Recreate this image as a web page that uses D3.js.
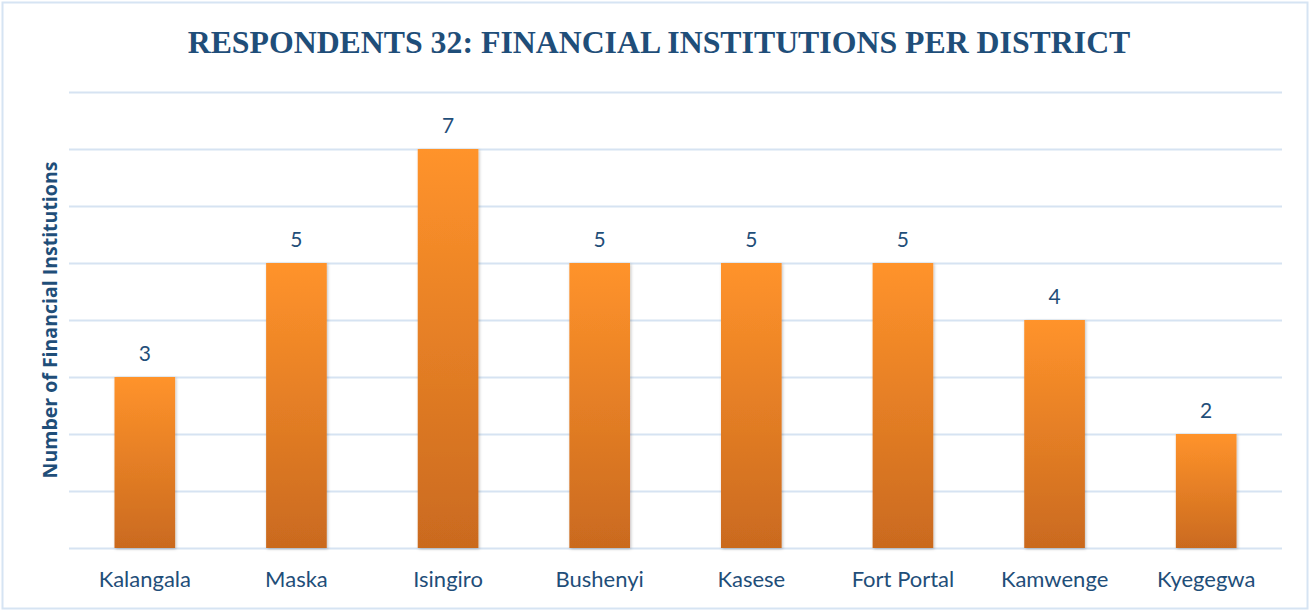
<!DOCTYPE html>
<html>
<head>
<meta charset="utf-8">
<script src="https://cdn.jsdelivr.net/npm/d3@7"></script>
<style>
  html, body { margin: 0; padding: 0; background: #ffffff; }
</style>
</head>
<body>
<script>
const districts = ['Kalangala', 'Maska', 'Isingiro', 'Bushenyi', 'Kasese', 'Fort Portal', 'Kamwenge', 'Kyegegwa'];
const institutions = [3, 5, 7, 5, 5, 5, 4, 2];
const gridValues = [0, 1, 2, 3, 4, 5, 6, 7, 8];

const W = 1310, H = 611;
const plot = { left: 69, right: 1282, top: 92, bottom: 548 };
const textBlue = '#1F4E79';
const labelFont = 'Lato, "Open Sans", sans-serif';

const svg = d3.select('body').append('svg')
  .attr('width', W)
  .attr('height', H)
  .attr('xmlns', 'http://www.w3.org/2000/svg');

const defs = svg.append('defs');
const grad = defs.append('linearGradient')
  .attr('id', 'barGrad')
  .attr('x1', 0).attr('y1', 0).attr('x2', 0).attr('y2', 1);
grad.append('stop').attr('offset', '0%').attr('stop-color', '#FF932B');
grad.append('stop').attr('offset', '100%').attr('stop-color', '#CA6A1F');

const shadow = defs.append('filter').attr('id', 'shadow')
  .attr('x', '-20%').attr('y', '-10%').attr('width', '140%').attr('height', '120%');
shadow.append('feDropShadow')
  .attr('dx', 1).attr('dy', 1).attr('stdDeviation', 1.5)
  .attr('flood-color', '#000').attr('flood-opacity', 0.25);

// outer border
svg.append('rect')
  .attr('x', 2.5).attr('y', 2.5)
  .attr('width', W - 5).attr('height', H - 5)
  .attr('fill', '#ffffff')
  .attr('stroke', '#D6E4F3')
  .attr('stroke-width', 2);

const x = d3.scaleBand()
  .domain(districts)
  .range([plot.left, plot.right])
  .paddingInner(0.6)
  .paddingOuter(0.3);

const y = d3.scaleLinear()
  .domain([0, 8])
  .range([plot.bottom, plot.top]);

// gridlines
svg.append('g')
  .selectAll('line')
  .data(gridValues)
  .join('line')
  .attr('x1', plot.left)
  .attr('x2', plot.right)
  .attr('y1', d => Math.round(y(d)) + 0.5)
  .attr('y2', d => Math.round(y(d)) + 0.5)
  .attr('stroke', '#D6E3F2')
  .attr('stroke-width', 2);

// bars
svg.append('g')
  .selectAll('rect')
  .data(institutions)
  .join('rect')
  .attr('x', (d, i) => x(districts[i]))
  .attr('y', d => y(d))
  .attr('width', x.bandwidth())
  .attr('height', d => y(0) - y(d))
  .attr('fill', 'url(#barGrad)')
  .attr('filter', 'url(#shadow)');

// data labels
svg.append('g')
  .selectAll('text')
  .data(institutions)
  .join('text')
  .attr('x', (d, i) => x(districts[i]) + x.bandwidth() / 2)
  .attr('y', d => y(d) - 16)
  .attr('text-anchor', 'middle')
  .attr('font-family', labelFont)
  .attr('font-size', 21)
  .attr('fill', textBlue)
  .text(d => d);

// category axis
const xAxis = svg.append('g')
  .attr('transform', `translate(0,${plot.bottom})`)
  .call(d3.axisBottom(x).tickSize(0).tickPadding(23));
xAxis.select('.domain').remove();
xAxis.selectAll('text')
  .attr('font-family', labelFont)
  .attr('font-size', 22)
  .attr('fill', textBlue);

// y axis title
svg.append('text')
  .attr('transform', `translate(57,${(plot.top + plot.bottom) / 2}) rotate(-90)`)
  .attr('text-anchor', 'middle')
  .attr('font-family', '"Open Sans", sans-serif')
  .attr('font-size', 19.5)
  .attr('font-weight', 'bold')
  .attr('fill', textBlue)
  .text('Number of Financial Institutions');

// title
svg.append('text')
  .attr('x', 659)
  .attr('y', 53)
  .attr('text-anchor', 'middle')
  .attr('font-family', '"Liberation Serif", "Times New Roman", serif')
  .attr('font-size', 31.8)
  .attr('font-weight', 'bold')
  .attr('fill', textBlue)
  .text('RESPONDENTS 32: FINANCIAL INSTITUTIONS PER DISTRICT');
</script>
</body>
</html>
